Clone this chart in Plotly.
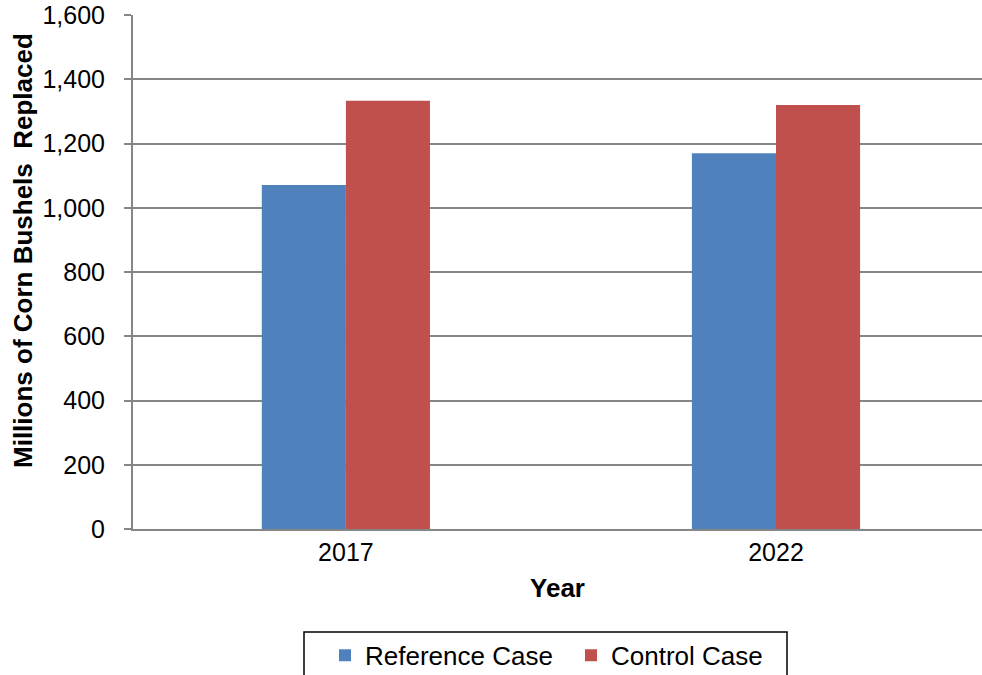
import plotly.graph_objects as go

# Corn bushels replaced (millions) by year and scenario
years = ["2017", "2022"]
reference_case = [1071, 1170]
control_case = [1333, 1320]
y_ticks = [0, 200, 400, 600, 800, 1000, 1200, 1400, 1600]

FONT = "Liberation Sans, Arial, sans-serif"
GRID = "#868686"
W, H = 982, 675

fig = go.Figure()
fig.add_trace(go.Bar(x=years, y=reference_case, name="Reference Case",
                     marker=dict(color="#4F81BD", line=dict(width=0))))
fig.add_trace(go.Bar(x=years, y=control_case, name="Control Case",
                     marker=dict(color="#C0504D", line=dict(width=0))))

fig.update_layout(
    width=W, height=H,
    margin=dict(l=133, r=0, t=15, b=146, autoexpand=False),
    paper_bgcolor="white", plot_bgcolor="white",
    barmode="group", bargap=0.609, bargroupgap=0,
    font=dict(family=FONT, size=25, color="black"),
    showlegend=True,
    legend=dict(orientation="h", x=(325 - 133) / (W - 133), xref="paper", xanchor="left",
                y=-0.2, yanchor="top", borderwidth=0, bgcolor="rgba(0,0,0,0)",
                font=dict(size=26), itemwidth=30, entrywidth=201,
                traceorder="normal"),
)

# legend frame
fig.add_shape(type="rect", xref="paper", yref="paper",
              x0=(304 - 133) / (W - 133), x1=(787 - 133) / (W - 133),
              y0=(529 - 632) / 514, y1=(529 - 690) / 514,
              line=dict(color="black", width=1.5), fillcolor="rgba(0,0,0,0)")

# y-axis title
fig.add_annotation(text="<b>Millions of Corn Bushels  Replaced</b>",
                   xref="paper", yref="paper",
                   x=(23 - 133) / (W - 133), y=(529 - 251) / 514,
                   xanchor="center", yanchor="middle", textangle=-90,
                   showarrow=False, font=dict(size=26))

fig.update_xaxes(
    type="category", range=[-0.495, 1.479],
    showline=True, linecolor=GRID, linewidth=2,
    ticks="", showgrid=False,
    tickfont=dict(size=25),
    title=dict(text="<b>Year</b>", font=dict(size=26), standoff=14),
)

fig.update_yaxes(
    range=[0, 1600], tickvals=y_ticks, tickformat=",",
    showline=True, linecolor=GRID, linewidth=2,
    ticks="outside", ticklen=7, tickcolor=GRID, tickwidth=1.5,
    showgrid=True, gridcolor=GRID, gridwidth=1.5,
    tickfont=dict(size=25), ticklabelstandoff=14,
    zeroline=False,
)

fig.write_html("out.html")
